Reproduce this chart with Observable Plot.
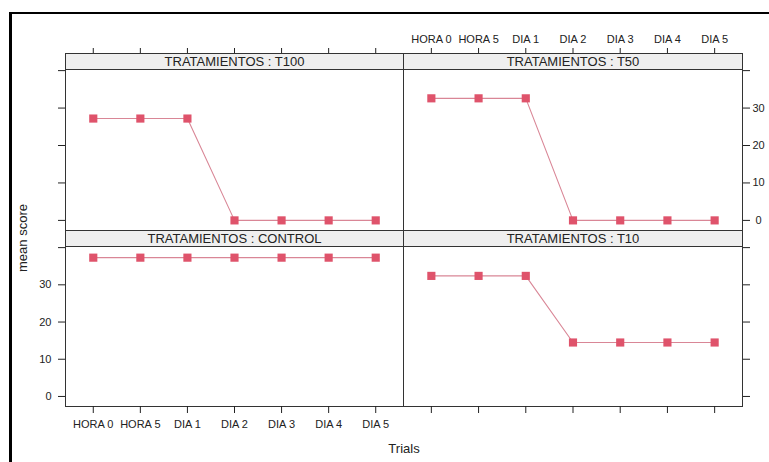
<!DOCTYPE html>
<html><head><meta charset="utf-8">
<script src="https://cdn.jsdelivr.net/npm/d3@7"></script>
<script src="https://cdn.jsdelivr.net/npm/@observablehq/plot@0.6"></script>
<style>
html,body{margin:0;padding:0;background:#fff;overflow:hidden;}
#chart{position:relative;width:769px;height:462px;overflow:hidden;font-family:"Liberation Sans",Arial,sans-serif;background:#fff;}
#chart svg{position:absolute;left:0;top:0;}
.strip{position:absolute;box-sizing:border-box;background:#efefef;border:1px solid #333;font-size:13px;line-height:15px;text-align:center;color:#222;}
.outer{position:absolute;left:9px;top:12px;width:820px;height:520px;border-top:2px solid #000;border-left:3px solid #000;box-sizing:border-box;}
.lbl{position:absolute;font-size:13px;color:#222;white-space:nowrap;}
</style></head>
<body><div id="chart"></div>
<script>
const trials = ["HORA 0","HORA 5","DIA 1","DIA 2","DIA 3","DIA 4","DIA 5"];
const panelNames = ["T100","T50","CONTROL","T10"];
const t100 = [27.2,27.2,27.2,0,0,0,0];
const t50 = [32.6,32.6,32.6,0,0,0,0];
const control = [37.3,37.3,37.3,37.3,37.3,37.3,37.3];
const t10 = [32.4,32.4,32.4,14.5,14.5,14.5,14.5];
const yTicks = [0,10,20,30,40];
const stripPrefix = "TRATAMIENTOS : ";
const xTitle = "Trials";
const yTitle = "mean score";

const seriesByPanel = {T100: t100, T50: t50, CONTROL: control, T10: t10};

const W = 769, H = 462;
const layout = {
  T100:    {l:65,  r:403, t:69,  b:230, top:"ticks",  bottom:null,    left:"ticks",  right:null},
  T50:     {l:403, r:742, t:69,  b:230, top:"labels", bottom:null,    left:null,     right:"labels"},
  CONTROL: {l:65,  r:403, t:246, b:406, top:null,     bottom:"labels",left:"labels", right:null},
  T10:     {l:403, r:742, t:246, b:406, top:null,     bottom:"ticks", left:null,     right:"ticks"}
};
const stripH = 16;
const col = "#DF536B";
const lineCol = "#d98696";

const chart = document.getElementById("chart");
const outer = document.createElement("div"); outer.className = "outer"; chart.appendChild(outer);

for (const name of panelNames) {
  const L = layout[name];
  const rows = trials.map((t, i) => ({trial: t, value: seriesByPanel[name][i]}));
  const marks = [
    Plot.frame({stroke: "#333", strokeWidth: 1}),
    Plot.line(rows, {x: "trial", y: "value", stroke: lineCol, strokeWidth: 1.1}),
    Plot.dot(rows, {x: "trial", y: "value", symbol: "square", r: 4.6, fill: col, stroke: "none"})
  ];
  const yFmt = d => d === 40 ? "" : String(d);
  if (L.top) marks.push(Plot.axisX(trials, {anchor: "top", dy: -stripH, tickSize: 6, tickPadding: 5, label: null,
    tickFormat: L.top === "labels" ? d => d : () => "", fontSize: 11}));
  if (L.bottom) marks.push(Plot.axisX(trials, {anchor: "bottom", tickSize: 7, tickPadding: 7, label: null,
    tickFormat: L.bottom === "labels" ? d => d : () => "", fontSize: 11}));
  if (L.left) marks.push(Plot.axisY(yTicks, {anchor: "left", tickSize: 7, tickPadding: 7, label: null,
    tickFormat: L.left === "labels" ? yFmt : () => "", fontSize: 11}));
  if (L.right) marks.push(Plot.axisY(yTicks, {anchor: "right", tickSize: 7, tickPadding: 9, label: null, textAnchor: "middle",
    tickFormat: L.right === "labels" ? yFmt : () => "", fontSize: 11}));
  const svg = Plot.plot({
    width: W, height: H,
    marginLeft: L.l, marginRight: W - L.r, marginTop: L.t, marginBottom: H - L.b,
    x: {type: "point", domain: trials, padding: 0.59, round: false, axis: null, label: null},
    y: {domain: [-2.7, 40.3], axis: null, label: null},
    style: {background: "transparent", overflow: "visible", color: "#222", fontFamily: "'Liberation Sans', Arial, sans-serif", fontSize: "11px"},
    marks
  });
  chart.appendChild(svg);
  const s = document.createElement("div");
  s.className = "strip";
  s.style.left = L.l + "px";
  s.style.top = (L.t - stripH - 0.5) + "px";
  s.style.width = (L.r - L.l + 1) + "px";
  s.style.height = (stripH + 1) + "px";
  s.textContent = stripPrefix + name;
  chart.appendChild(s);
}

const xt = document.createElement("div"); xt.className = "lbl"; xt.textContent = xTitle;
xt.style.left = "404px"; xt.style.top = "441px"; xt.style.transform = "translateX(-50%)";
chart.appendChild(xt);
const yt = document.createElement("div"); yt.className = "lbl"; yt.textContent = yTitle;
yt.style.left = "22px"; yt.style.top = "238px"; yt.style.transform = "translate(-50%,-50%) rotate(-90deg)";
chart.appendChild(yt);
</script></body></html>
